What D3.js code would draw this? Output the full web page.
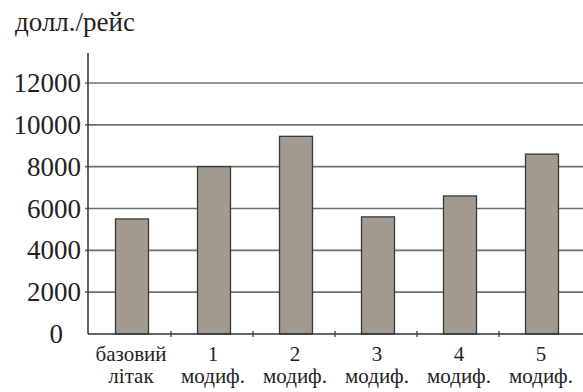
<!DOCTYPE html>
<html><head><meta charset="utf-8">
<script src="https://cdn.jsdelivr.net/npm/d3@7"></script>
<style>body{margin:0;background:#fff} svg text{font-family:'Liberation Serif',serif !important}</style>
</head><body>
<script>
const categories = ["базовий|літак", "1|модиф.", "2|модиф.", "3|модиф.", "4|модиф.", "5|модиф."];
const values = [5500, 8000, 9450, 5600, 6600, 8600];
const yTicks = [0, 2000, 4000, 6000, 8000, 10000, 12000];
const unitLabel = "долл./рейс";

const W = 583, H = 392;
const FONT = "'Liberation Serif', serif";
const svg = d3.select("body").append("svg").attr("width", W).attr("height", H);
const x0 = 88, x1 = 582, yTop = 53, yBase = 334, y12 = 83;
const x = d3.scaleBand().domain(categories).range([x0 + 2, x1]).padding(0);
const y = d3.scaleLinear().domain([0, 12000]).range([yBase, y12]);

const t = svg.append("text").attr("x", 15).attr("y", 31).attr("font-size", 27)
  .style("font-family", FONT, "important").attr("fill", "#222").text(unitLabel);
document.fonts.check("27px 'Liberation Serif'");
t.node().getComputedTextLength();

// gridlines
svg.append("g").selectAll("line").data(yTicks.filter(d => d > 0)).join("line")
  .attr("x1", x0 - 3).attr("x2", W).attr("y1", d => y(d)).attr("y2", d => y(d))
  .attr("stroke", "#6f6f6f").attr("stroke-width", 1.6);

// y tick labels
svg.append("g").selectAll("text.yt").data(yTicks).join("text").attr("class", "yt")
  .style("font-family", FONT, "important").attr("fill", "#222")
  .attr("x", d => d === 0 ? 63 : 81).attr("y", d => y(d) + 9)
  .attr("text-anchor", "end").attr("font-size", 27).text(d => d);

// bars
const bw = 33;
svg.append("g").selectAll("rect").data(values).join("rect")
  .attr("x", (d, i) => x(categories[i]) + x.bandwidth() / 2 - bw / 2 + 1)
  .attr("y", d => y(d)).attr("width", bw).attr("height", d => yBase - y(d))
  .attr("fill", "#a39a8f").attr("stroke", "#3a3a3a").attr("stroke-width", 1.3);

// axes
svg.append("line").attr("x1", x0).attr("x2", x0).attr("y1", yTop).attr("y2", yBase)
  .attr("stroke", "#333").attr("stroke-width", 1.5);
svg.append("line").attr("x1", x0).attr("x2", W).attr("y1", yBase).attr("y2", yBase)
  .attr("stroke", "#333").attr("stroke-width", 1.5);
// x ticks between categories
svg.append("g").selectAll("line").data(categories.slice(1)).join("line")
  .attr("x1", d => x(d) - 1).attr("x2", d => x(d) - 1).attr("y1", yBase - 3).attr("y2", yBase + 3)
  .attr("stroke", "#333").attr("stroke-width", 1.2);

// x labels (two lines each)
const labG = svg.append("g");
categories.forEach(function(d) {
  const parts = d.split("|");
  const cx = x(d) + x.bandwidth() / 2;
  parts.forEach(function(p, j) {
    labG.append("text").style("font-family", FONT, "important").attr("fill", "#222")
      .attr("text-anchor", "middle").attr("font-size", 21)
      .attr("x", cx).attr("y", j === 0 ? 361 : 383).text(p);
  });
});
</script>
</body></html>
